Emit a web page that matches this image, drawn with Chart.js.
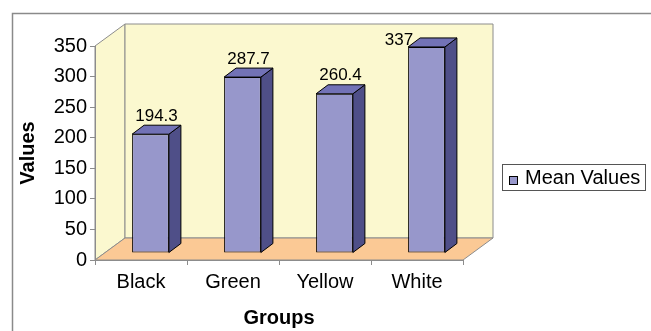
<!DOCTYPE html>
<html>
<head>
<meta charset="utf-8">
<script src="https://cdn.jsdelivr.net/npm/chart.js@4.4.1/dist/chart.umd.min.js"></script>
<style>
  html, body { margin: 0; padding: 0; background: #fff; }
</style>
</head>
<body>
<canvas id="chartGroups" width="651" height="331"></canvas>
<script>
// ---------- Données ----------
const groups = ['Black', 'Green', 'Yellow', 'White'];
const meanValues = [194.3, 287.7, 260.4, 337];
const seriesLabel = 'Mean Values';
const yMin = 0;
const yMax = 350;
const yStep = 50;

// ---------- Style / effet 3D ----------
const FONT = 'Liberation Sans, Arial, sans-serif';
const DX = 30, DY = -22;            // profondeur des parois
const SHIFT_X = 9.5, SHIFT_Y = -7;  // barres placées au milieu de la profondeur
const SIDE_X = 12, SIDE_Y = -9;     // épaisseur des barres
const WALL = '#fbf8cf';
const FLOOR = '#fbc995';
const EDGE = '#8c8c8c';
const BAR_FRONT = '#9797cb';
const BAR_SIDE = '#4f4f88';
const BAR_TOP = '#7272b6';

function poly(ctx, pts, fill, stroke) {
    ctx.beginPath();
    ctx.moveTo(pts[0][0], pts[0][1]);
    for (let i = 1; i < pts.length; i++) ctx.lineTo(pts[i][0], pts[i][1]);
    ctx.closePath();
    if (fill) { ctx.fillStyle = fill; ctx.fill(); }
    if (stroke) { ctx.strokeStyle = stroke; ctx.lineWidth = 1; ctx.stroke(); }
}

const decor3d = {
    id: 'decor3d',
    beforeDraw(chart) {
        const { ctx, chartArea: a } = chart;
        ctx.save();
        // cadre extérieur
        ctx.strokeStyle = '#8a8a8a';
        ctx.lineWidth = 1.5;
        ctx.beginPath();
        ctx.moveTo(12.5, 331);
        ctx.lineTo(12.5, 13.5);
        ctx.lineTo(651, 13.5);
        ctx.stroke();
        // paroi gauche
        poly(ctx, [[a.left, a.top], [a.left + DX, a.top + DY], [a.left + DX, a.bottom + DY], [a.left, a.bottom]], WALL, EDGE);
        // paroi du fond
        poly(ctx, [[a.left + DX, a.top + DY], [a.right + DX, a.top + DY], [a.right + DX, a.bottom + DY], [a.left + DX, a.bottom + DY]], WALL, EDGE);
        // sol
        poly(ctx, [[a.left, a.bottom], [a.left + DX, a.bottom + DY], [a.right + DX, a.bottom + DY], [a.right, a.bottom]], FLOOR, EDGE);
        ctx.restore();
    },
    beforeDatasetsDraw(chart) {
        chart.ctx.save();
        chart.ctx.translate(SHIFT_X, SHIFT_Y);
    },
    afterDatasetsDraw(chart) {
        const ctx = chart.ctx;
        ctx.restore();
        const a = chart.chartArea;
        const meta = chart.getDatasetMeta(0);
        ctx.save();
        meta.data.forEach(function (el, i) {
            const x1 = el.x - el.width / 2 + SHIFT_X;
            const x2 = el.x + el.width / 2 + SHIFT_X;
            const top = el.y + SHIFT_Y;
            const base = el.base + SHIFT_Y;
            // face latérale
            poly(ctx, [[x2, top], [x2 + SIDE_X, top + SIDE_Y], [x2 + SIDE_X, base + SIDE_Y], [x2, base]], BAR_SIDE, '#000');
            // dessus
            poly(ctx, [[x1, top], [x1 + SIDE_X, top + SIDE_Y], [x2 + SIDE_X, top + SIDE_Y], [x2, top]], BAR_TOP, '#000');

            // étiquette de valeur
            ctx.font = '17px ' + FONT;
            ctx.fillStyle = '#000';
            ctx.textBaseline = 'middle';
            ctx.textAlign = 'center';
            const txt = String(meanValues[i]);
            const w = ctx.measureText(txt).width;
            let lx = el.x + SHIFT_X + SIDE_X / 2;
            let ly = top + SIDE_Y - 9;
            if (ly < a.top - 6) {
                // pas de place au-dessus : on décale à gauche de la barre
                ly = a.top - 6;
                lx = x1 + 5 - w / 2;
            }
            ctx.fillText(txt, lx, ly);
        });
        ctx.restore();
    },
    afterDraw(chart) {
        // légende encadrée
        const ctx = chart.ctx;
        ctx.save();
        ctx.strokeStyle = '#555';
        ctx.lineWidth = 1;
        ctx.strokeRect(502.5, 164.5, 143, 26);
        ctx.fillStyle = BAR_FRONT;
        ctx.fillRect(509.5, 176.5, 8, 8);
        ctx.strokeStyle = '#000';
        ctx.strokeRect(509.5, 176.5, 8, 8);
        ctx.fillStyle = '#000';
        ctx.font = '20px ' + FONT;
        ctx.textBaseline = 'middle';
        ctx.textAlign = 'left';
        ctx.fillText(chart.data.datasets[0].label, 525, 178);
        ctx.restore();
    }
};

Chart.defaults.color = '#000';
Chart.defaults.font.family = FONT;

new Chart(document.getElementById('chartGroups'), {
    type: 'bar',
    data: {
        labels: groups,
        datasets: [{
            label: seriesLabel,
            data: meanValues,
            backgroundColor: BAR_FRONT,
            borderColor: '#000',
            borderWidth: 1,
            borderSkipped: false,
            barPercentage: 0.4,
            categoryPercentage: 1
        }]
    },
    options: {
        responsive: false,
        animation: false,
        layout: { padding: { left: 0, top: 46, right: 188, bottom: 0 } },
        plugins: {
            legend: { display: false },
            tooltip: { enabled: false }
        },
        scales: {
            x: {
                afterFit: function (scale) { scale.height = 71; },
                grid: { offset: true, drawOnChartArea: false, tickLength: 5, color: EDGE },
                border: { display: true, color: EDGE },
                ticks: { font: { size: 20 }, padding: 5, color: '#000' },
                title: { display: true, text: 'Groups', font: { size: 20, weight: 'bold' }, padding: { top: 0, bottom: 1 } }
            },
            y: {
                min: yMin,
                max: yMax,
                afterFit: function (scale) { scale.width = 95; },
                grid: { drawOnChartArea: false, tickLength: 5, color: EDGE },
                border: { display: true, color: EDGE },
                ticks: { stepSize: yStep, font: { size: 20 }, padding: 3, color: '#000' },
                title: { display: true, text: 'Values', font: { size: 20, weight: 'bold' }, padding: { top: 16, bottom: 0 } }
            }
        }
    },
    plugins: [decor3d]
});
</script>
</body>
</html>
